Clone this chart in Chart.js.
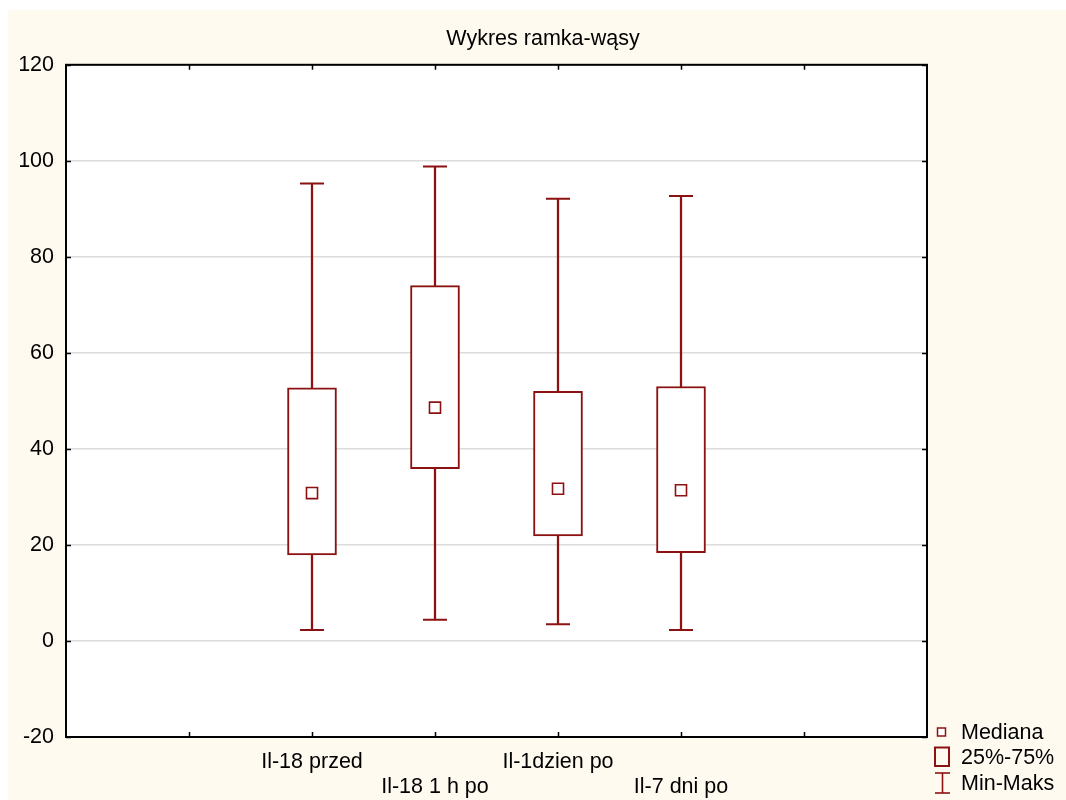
<!DOCTYPE html>
<html lang="pl">
<head>
<meta charset="utf-8">
<title>Wykres ramka-wąsy</title>
<script src="https://cdn.jsdelivr.net/npm/chart.js@4/dist/chart.umd.min.js"></script>
<style>
  html, body { margin: 0; padding: 0; background: #ffffff; }
  body { width: 1066px; height: 800px; position: relative; overflow: hidden;
         font-family: "Liberation Sans", Arial, sans-serif; }
  #paper { position: absolute; left: 8px; top: 10px; width: 1058px; height: 790px; background: #fffaf0; }
  #chart { position: absolute; left: 0; top: 0; }
  .key { position: absolute; left: 932px; height: 24px; display: flex; align-items: center;
         font-size: 21.5px; color: #000; white-space: nowrap; }
  .key svg { width: 22px; height: 24px; margin-right: 7px; flex: none; }
</style>
</head>
<body>
<div id="paper"></div>
<canvas id="chart" width="1066" height="800"></canvas>

<div class="key" style="top:720px">
  <svg viewBox="0 0 22 24"><rect x="5.5" y="8" width="8" height="8" fill="#fff" stroke="#8c1212" stroke-width="1.5"/></svg>Mediana
</div>
<div class="key" style="top:745px">
  <svg viewBox="0 0 22 24"><rect x="3" y="2.5" width="14" height="18.5" fill="none" stroke="#8c1212" stroke-width="2"/></svg>25%-75%
</div>
<div class="key" style="top:771px">
  <svg viewBox="0 0 22 24">
    <line x1="3" y1="2" x2="18" y2="2" stroke="#8c1212" stroke-width="1.6"/>
    <line x1="10.5" y1="2" x2="10.5" y2="22" stroke="#8c1212" stroke-width="1.6"/>
    <line x1="3" y1="22" x2="18" y2="22" stroke="#8c1212" stroke-width="1.6"/>
  </svg>Min-Maks
</div>

<script>
// Groups shown on the x axis
const categories = ['Il-18 przed', 'Il-18 1 h po', 'Il-1dzien po', 'Il-7 dni po'];

// Summary statistics per group
const minimum = [2.3, 4.4, 3.5, 2.3];
const q1      = [17.9, 35.9, 21.9, 18.4];
const median  = [30.8, 48.6, 31.7, 31.4];
const q3      = [52.7, 74.0, 52.0, 53.0];
const maximum = [95.3, 98.8, 92.1, 92.7];

// Y axis range and step
const yMin = -20;
const yMax = 120;
const yStep = 20;

// Two empty slots on each side of the groups
const padLeft = 2;
const padRight = 2;
const pad = arr => [...Array(padLeft).fill(null), ...arr, ...Array(padRight).fill(null)];
const slotLabels = pad(categories).map(c => c || '');

const RED = '#8c1212';
const FONT = "'Liberation Sans', Arial, sans-serif";

// White plotting area, frame and inward-pointing tick marks
const frame = {
  id: 'frame',
  beforeDraw(chart) {
    const a = chart.chartArea, ctx = chart.ctx;
    ctx.save();
    ctx.fillStyle = '#ffffff';
    ctx.fillRect(a.left, a.top, a.right - a.left, a.bottom - a.top);
    ctx.restore();
  },
  afterDraw(chart) {
    const a = chart.chartArea, ctx = chart.ctx;
    const x = chart.scales.x, y = chart.scales.y;
    const len = 5;
    ctx.save();
    ctx.strokeStyle = '#000';
    ctx.lineWidth = 1.5;
    ctx.beginPath();
    for (let i = 1; i < slotLabels.length - 1; i++) {
      const px = Math.round(x.getPixelForValue(i)) + 0.5;
      ctx.moveTo(px, a.bottom); ctx.lineTo(px, a.bottom - len);
      ctx.moveTo(px, a.top); ctx.lineTo(px, a.top + len);
    }
    for (let v = yMin; v <= yMax; v += yStep) {
      const py = Math.round(y.getPixelForValue(v)) + 0.5;
      ctx.moveTo(a.left, py); ctx.lineTo(a.left + len, py);
      ctx.moveTo(a.right, py); ctx.lineTo(a.right - len, py);
    }
    ctx.stroke();
    ctx.lineWidth = 2;
    ctx.strokeRect(a.left, a.top, a.right - a.left, a.bottom - a.top);
    ctx.restore();
  }
};

new Chart(document.getElementById('chart'), {
  type: 'bar',
  data: {
    labels: slotLabels,
    datasets: [
      {
        // Median markers
        type: 'line',
        label: 'Mediana',
        data: pad(median),
        showLine: false,
        pointStyle: 'rect',
        pointRadius: 7.8,
        pointBorderWidth: 1.6,
        pointBorderColor: RED,
        pointBackgroundColor: '#ffffff',
        order: 0
      },
      {
        // Interquartile boxes
        label: '25%-75%',
        data: pad(q1.map((v, i) => [v, q3[i]])),
        backgroundColor: '#ffffff',
        borderColor: RED,
        borderWidth: 2,
        borderSkipped: false,
        barThickness: 49,
        grouped: false,
        order: 1
      },
      {
        // Whisker stems
        label: 'Min-Maks',
        data: pad(minimum.map((v, i) => [v, maximum[i]])),
        backgroundColor: RED,
        borderWidth: 0,
        barThickness: 1.6,
        grouped: false,
        order: 2
      },
      {
        // Whisker caps at the maxima
        type: 'line',
        label: 'Maks',
        data: pad(maximum),
        showLine: false,
        pointStyle: 'line',
        pointRadius: 12,
        pointBorderWidth: 2,
        pointBorderColor: RED,
        order: 1
      },
      {
        // Whisker caps at the minima
        type: 'line',
        label: 'Min',
        data: pad(minimum),
        showLine: false,
        pointStyle: 'line',
        pointRadius: 12,
        pointBorderWidth: 2,
        pointBorderColor: RED,
        order: 1
      }
    ]
  },
  options: {
    responsive: false,
    animation: false,
    devicePixelRatio: 1,
    events: [],
    layout: { padding: { left: 20, right: 0, top: 0, bottom: 0 } },
    plugins: {
      legend: { display: false },
      tooltip: { enabled: false },
      title: {
        display: true,
        text: 'Wykres ramka-wąsy',
        color: '#000',
        font: { family: FONT, size: 21.5, weight: 'normal' },
        padding: { top: 26, bottom: 13 }
      }
    },
    scales: {
      x: {
        type: 'category',
        offset: false,
        grid: { display: true, drawOnChartArea: false, drawTicks: false },
        border: { display: true, color: '#000', width: 2 },
        ticks: {
          autoSkip: false,
          maxRotation: 0,
          minRotation: 0,
          padding: 13,
          color: '#000',
          font: { family: FONT, size: 21.5, lineHeight: 1.15 },
          callback: (value, index) => {
            const text = slotLabels[index];
            if (!text) return '';
            // alternate rows so neighbouring labels do not collide
            return (index - padLeft) % 2 === 0 ? [text, ''] : ['', text];
          }
        },
        afterFit: s => { s.height = 63; }
      },
      y: {
        type: 'linear',
        min: yMin,
        max: yMax,
        grid: { color: '#dcdcdc', lineWidth: 1.6, drawTicks: false },
        border: { display: true, color: '#000', width: 2 },
        ticks: {
          stepSize: yStep,
          padding: 12,
          color: '#000',
          font: { family: FONT, size: 21.5 }
        },
        afterFit: s => { s.width = 46; }
      },
      yR: {
        type: 'linear',
        position: 'right',
        display: true,
        min: yMin,
        max: yMax,
        grid: { display: false },
        border: { display: false },
        ticks: { display: false },
        afterFit: s => { s.width = 139; }
      }
    }
  },
  plugins: [frame]
});
</script>
</body>
</html>
